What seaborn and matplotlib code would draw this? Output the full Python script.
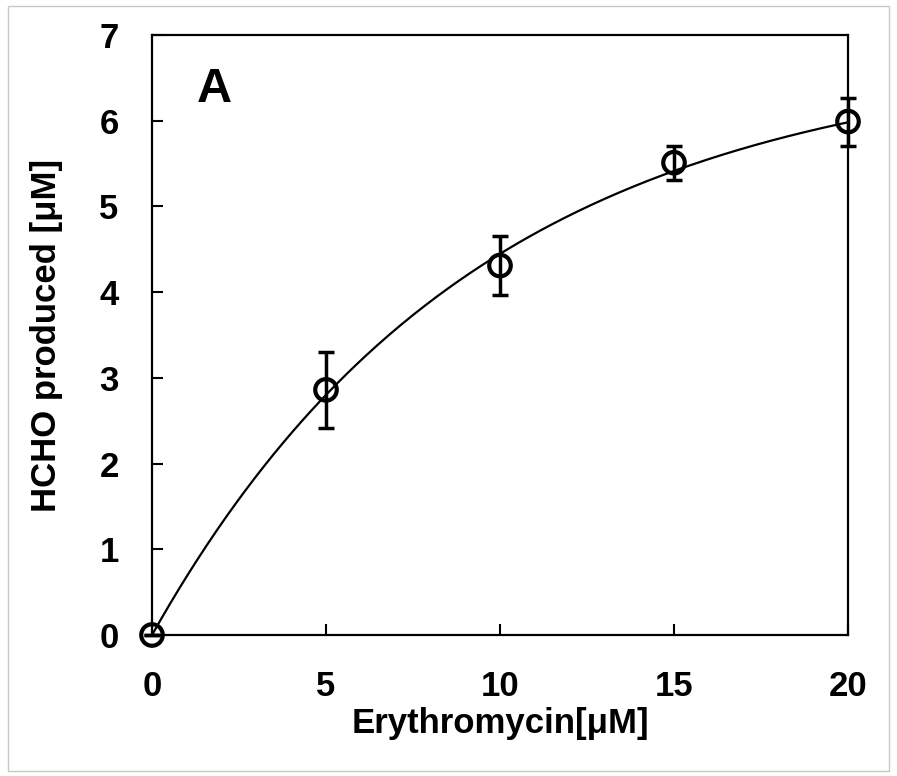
import numpy as np
import pandas as pd
import matplotlib
matplotlib.use("Agg")
import matplotlib.pyplot as plt
import seaborn as sns
from matplotlib.patches import Rectangle

# Measured HCHO production at each erythromycin concentration
concentration = [0, 5, 10, 15, 20]
hcho = [0.0, 2.86, 4.31, 5.51, 5.99]
hcho_err = [0.0, 0.44, 0.34, 0.20, 0.28]

x_ticks = [0, 5, 10, 15, 20]
y_ticks = [0, 1, 2, 3, 4, 5, 6, 7]

# Exponential rise-to-maximum fit: y = plateau * (1 - exp(-rate * x))
plateau = 6.79
rate = 0.1064

sns.set_theme(style="ticks")
plt.rcParams["font.family"] = ["Liberation Sans", "DejaVu Sans"]
plt.rcParams["font.weight"] = "bold"
plt.rcParams["text.color"] = "black"
plt.rcParams["axes.labelcolor"] = "black"

W, H = 897, 776
fig = plt.figure(figsize=(W / 100, H / 100), dpi=100)
fig.patch.set_facecolor("white")
fig.patches.append(Rectangle((8 / W, 5 / H), (889 - 8) / W, (770 - 5) / H,
                             transform=fig.transFigure, fill=False,
                             edgecolor="#c8c8c8", linewidth=1.0))

ax = fig.add_axes([152 / W, 1 - 635 / H, (848 - 152) / W, (635 - 35) / H])

xs = np.linspace(0, 20, 300)
fit = pd.DataFrame({"x": xs, "y": plateau * (1 - np.exp(-rate * xs))})
sns.lineplot(data=fit, x="x", y="y", ax=ax, color="black", linewidth=1.6,
             zorder=3)

ax.errorbar(concentration, hcho, yerr=hcho_err, fmt="none", ecolor="black",
            elinewidth=2.5, capsize=5.5, capthick=2.5, zorder=4, clip_on=False)

pts = pd.DataFrame({"conc": concentration, "hcho": hcho})
sns.scatterplot(data=pts, x="conc", y="hcho", ax=ax, marker="o", s=240,
                facecolors="none", edgecolor="black", linewidth=3.0,
                zorder=5, clip_on=False)

ax.set_xlim(0, 20)
ax.set_ylim(0, 7)
ax.set_xticks(x_ticks)
ax.set_yticks(y_ticks)
ax.tick_params(axis="both", direction="in", length=8, width=1.5,
               labelsize=25, colors="black")
ax.tick_params(axis="x", pad=25)
ax.tick_params(axis="y", pad=24)
for lab in ax.get_xticklabels() + ax.get_yticklabels():
    lab.set_fontweight("bold")

for side in ["left", "bottom", "top", "right"]:
    ax.spines[side].set_visible(True)
    ax.spines[side].set_linewidth(1.6)
    ax.spines[side].set_color("black")

ax.set_xlabel("Erythromycin[\u03bcM]", fontsize=25, fontweight="bold",
              color="black", labelpad=3)
ax.set_ylabel("HCHO produced [\u03bcM]", fontsize=25, fontweight="bold",
              color="black", labelpad=26)

ax.text(1.78, 6.37, "A", fontsize=35, fontweight="bold", ha="center",
        va="center", color="black")

fig.savefig("out.png", dpi=100, facecolor="white")
